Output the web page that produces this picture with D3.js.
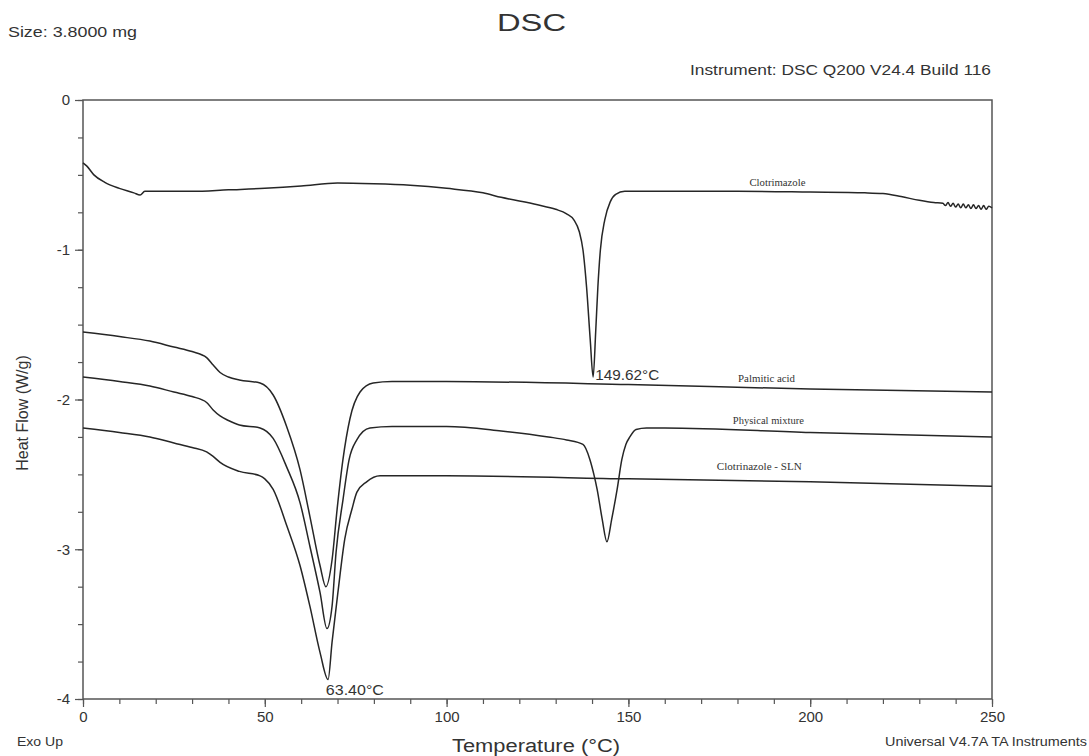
<!DOCTYPE html>
<html>
<head>
<meta charset="UTF-8">
<title>DSC</title>
<script src="https://d3js.org/d3.v7.min.js"></script>
<style>
  body { margin: 0; background: #fff; }
  svg text { font-family: "Liberation Sans", Arial, sans-serif; fill: #333; }
  .axis path { display: none; }
  .axis line { stroke: #555; stroke-width: 1.2; }
  .axis text { font-size: 15px; fill: #333; font-family: "Liberation Sans", Arial, sans-serif; }
  .lbl { font-family: "Liberation Serif", "Times New Roman", serif !important; font-size: 10px; }
</style>
</head>
<body>
<div id="chart"></div>
<script>
// Clotrimazole
var clotT = [0, 1, 3, 6, 10, 14, 15.7, 17, 20, 30, 40, 50, 60, 70, 80, 90, 100, 110, 115, 125, 130, 133, 135, 136.5, 137.5, 138.5, 139.5, 140.3, 141, 141.6, 142.3, 143.5, 145, 146.5, 149, 160, 180, 200, 215, 220, 225, 230, 234, 236.5,
             237.2, 237.9, 238.6, 239.3, 240, 240.7, 241.4, 242.1, 242.8, 243.5, 244.2, 244.9, 245.6, 246.3, 247, 247.7, 248.4, 249.1, 250];
var clotH = [-0.42, -0.44, -0.5, -0.55, -0.59, -0.62, -0.635, -0.61, -0.61, -0.61, -0.6, -0.59, -0.575, -0.555, -0.56, -0.57, -0.59, -0.62, -0.65, -0.7, -0.73, -0.76, -0.8, -0.88, -1.0, -1.25, -1.6, -1.85, -1.55, -1.25, -1.0, -0.8, -0.68, -0.63, -0.61, -0.61, -0.61, -0.615, -0.62, -0.625, -0.645, -0.67, -0.685, -0.69,
             -0.705, -0.685, -0.71, -0.69, -0.715, -0.695, -0.72, -0.695, -0.72, -0.7, -0.725, -0.7, -0.725, -0.705, -0.73, -0.705, -0.73, -0.71, -0.72];

// Palmitic acid
var palmT = [0, 10, 18.4, 25, 30, 34, 35.8, 37.7, 40, 43, 48.7, 52.3, 56, 59.7, 62.4, 65.2, 66.8, 68.5, 69.9, 71.5, 73.4, 76.2, 79.8, 85, 100, 150, 200, 250];
var palmH = [-1.55, -1.58, -1.61, -1.65, -1.68, -1.72, -1.77, -1.82, -1.85, -1.87, -1.89, -1.97, -2.18, -2.47, -2.78, -3.11, -3.25, -3.07, -2.73, -2.4, -2.13, -1.95, -1.89, -1.88, -1.88, -1.9, -1.93, -1.95];

// Physical mixture
var mixT = [0, 10, 18.4, 25, 30, 34, 35.8, 37.7, 40, 43, 48.7, 52.3, 56, 59.7, 62.4, 65.2, 67.1, 68.5, 69.6, 71.5, 73.2, 75.3, 78.9, 85, 100, 115, 128, 133, 137.5, 139.4, 140.5, 141.4, 142.8, 144.1, 145.4, 146.9, 148.2, 149.3, 150.4, 152.1, 155, 160, 200, 250];
var mixH = [-1.85, -1.88, -1.91, -1.95, -1.98, -2.02, -2.07, -2.11, -2.14, -2.17, -2.19, -2.26, -2.45, -2.69, -2.98, -3.29, -3.53, -3.38, -3.02, -2.67, -2.4, -2.27, -2.19, -2.18, -2.18, -2.21, -2.25, -2.27, -2.3, -2.4, -2.5, -2.6, -2.8, -2.95, -2.8, -2.6, -2.4, -2.3, -2.25, -2.2, -2.19, -2.19, -2.22, -2.25];

// Clotrimazole - SLN
var slnT = [0, 10, 18.4, 25, 30, 34, 35.8, 37.7, 43, 48.7, 50, 52.3, 56, 59.7, 62.4, 65.2, 67.4, 68.5, 70.1, 72, 74, 75.3, 78, 81.7, 100, 150, 200, 250];
var slnH = [-2.19, -2.22, -2.25, -2.29, -2.32, -2.35, -2.38, -2.42, -2.48, -2.51, -2.53, -2.6, -2.84, -3.11, -3.38, -3.69, -3.87, -3.62, -3.29, -2.93, -2.73, -2.62, -2.55, -2.51, -2.51, -2.53, -2.55, -2.58];

var xMajor = [0, 50, 100, 150, 200, 250];
var yMajor = [0, -1, -2, -3, -4];

function zip(t, h) { return t.map(function (v, i) { return [v, h[i]]; }); }

var series = [
  { name: "Clotrimazole", pts: zip(clotT, clotH), lx: 191, ly: -0.58, len: 56 },
  { name: "Palmitic acid", pts: zip(palmT, palmH), lx: 188, ly: -1.887, len: 57 },
  { name: "Physical mixture", pts: zip(mixT, mixH), lx: 188.5, ly: -2.167, len: 71 },
  { name: "Clotrinazole - SLN", pts: zip(slnT, slnH), lx: 186, ly: -2.48, len: 85 }
];

var W = 1089, H = 756;
var margin = { top: 100, right: 97, bottom: 57, left: 83 };
var w = W - margin.left - margin.right, h = H - margin.top - margin.bottom;

var svg = d3.select("#chart").append("svg").attr("width", W).attr("height", H);
var g = svg.append("g").attr("transform", "translate(" + margin.left + "," + margin.top + ")");

var x = d3.scaleLinear().domain([0, 250]).range([0, w]);
var y = d3.scaleLinear().domain([-4, 0]).range([h, 0]);

// text stretched to the width seen in the picture
function label(sel, txt, len) {
  return sel.text(txt).attr("textLength", len).attr("lengthAdjust", "spacingAndGlyphs");
}

// minor ticks
g.append("g").attr("class", "axis")
  .attr("transform", "translate(0," + h + ")")
  .call(d3.axisBottom(x).tickValues(d3.range(0, 251, 10)).tickSize(5).tickFormat(""));
g.append("g").attr("class", "axis")
  .call(d3.axisLeft(y).tickValues(d3.range(-4, 0.01, 0.25)).tickSize(5).tickFormat(""));

// major ticks
g.append("g").attr("class", "axis")
  .attr("transform", "translate(0," + h + ")")
  .call(d3.axisBottom(x).tickValues(xMajor).tickSize(8).tickPadding(4).tickFormat(d => String(d)));
g.append("g").attr("class", "axis")
  .call(d3.axisLeft(y).tickValues(yMajor).tickSize(8).tickPadding(5).tickFormat(d => String(d)));

g.append("rect").attr("width", w).attr("height", h)
  .attr("fill", "none").attr("stroke", "#555").attr("stroke-width", 1.5);

var line = d3.line().x(function (d) { return x(d[0]); }).y(function (d) { return y(d[1]); })
  .curve(d3.curveMonotoneX);

series.forEach(function (s) {
  g.append("path").datum(s.pts).attr("d", line)
    .attr("fill", "none").attr("stroke", "#262626").attr("stroke-width", 1.5);
  label(g.append("text").attr("class", "lbl")
    .attr("x", x(s.lx) - s.len / 2).attr("y", y(s.ly) - 1), s.name, s.len);
});

// peak labels
label(g.append("text").attr("x", x(140.9)).attr("y", y(-1.85) + 3)
  .style("font-size", "15px"), "149.62°C", 64);
label(g.append("text").attr("x", x(66.8)).attr("y", y(-3.87) + 15)
  .style("font-size", "15px"), "63.40°C", 58);

// texts around
label(svg.append("text").attr("x", 497).attr("y", 31).style("font-size", "24px"), "DSC", 69);
label(svg.append("text").attr("x", 8).attr("y", 37).style("font-size", "15px"), "Size:  3.8000 mg", 129);
label(svg.append("text").attr("x", 690).attr("y", 75).style("font-size", "15px"),
  "Instrument: DSC Q200 V24.4 Build 116", 301);
svg.append("text").attr("transform", "translate(28,413) rotate(-90)")
  .attr("text-anchor", "middle").style("font-size", "16px").text("Heat Flow (W/g)");
label(svg.append("text").attr("x", 452).attr("y", 752).style("font-size", "18px"), "Temperature (°C)", 168);
label(svg.append("text").attr("x", 17).attr("y", 746).style("font-size", "13px"), "Exo Up", 46);
label(svg.append("text").attr("x", 885).attr("y", 746).style("font-size", "13px"),
  "Universal V4.7A TA Instruments", 202);
</script>
</body>
</html>
